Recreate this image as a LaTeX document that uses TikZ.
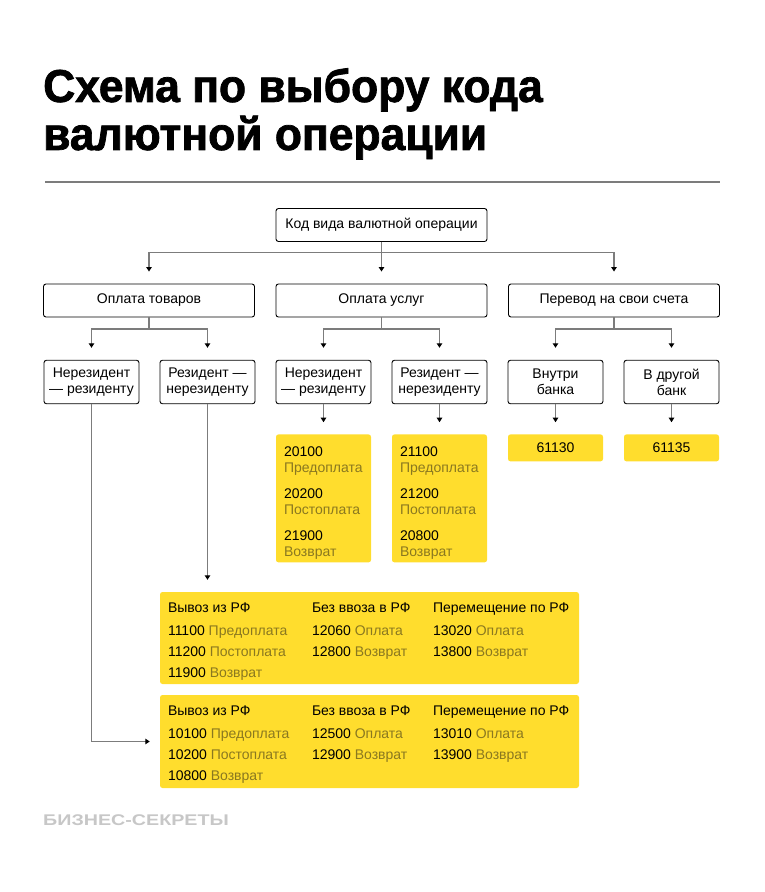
\documentclass[tikz,border=0pt]{standalone}
\usepackage{fontspec}
\setmainfont{Liberation Sans}
\newfontfamily\headfont[FakeStretch=0.965,FakeBold=1.6]{Liberation Sans Bold}
\newfontfamily\brandfont[FakeStretch=1.27]{Liberation Sans Bold}
\usepackage{tikz}
\usetikzlibrary{positioning,arrows.meta}

\definecolor{ylw}{HTML}{FFDD2D}
\definecolor{muted}{HTML}{8A7820}
\definecolor{linegray}{HTML}{7C7C7C}

\begin{document}
\begin{tikzpicture}[x=1pt,y=-1pt]
        \tikzstyle{every node}=[inner sep=0pt, font=\fontsize{14}{16}\selectfont]
        \tikzstyle{box}=[draw, rounded corners=2.5pt, line width=0.9pt]
        \tikzstyle{wide}=[box, minimum width=211pt, minimum height=33pt]
        \tikzstyle{small}=[box, minimum width=95pt, minimum height=43.5pt, align=center]
        \tikzstyle{code}=[fill=ylw, rounded corners=2.5pt]
        \tikzstyle{list}=[code, minimum width=95pt, minimum height=128pt, text width=79pt, align=left, font=\fontsize{14}{15.5}\selectfont]
        \tikzstyle{col}=[anchor=north west, align=left, font=\fontsize{14}{21}\selectfont]
        \tikzstyle{link}=[draw=linegray, line width=1.7pt, shorten >=12pt, -{Triangle[length=4.5pt,width=5.5pt,color=black]}]

        \useasboundingbox (0,0) rectangle (764,892);

        % title
        \node (title) [anchor=north west, align=left, font=\headfont\fontsize{46}{48}\selectfont] at (43,68) {Схема по выбору кода\\валютной операции};
        \draw[linegray, line width=2pt] (45,182) -- (720,182);

        % tree
        \node (root)  [wide] at (381.5,225) {Код вида валютной операции};

        \node (goods) [wide] at (149,300.5)   {Оплата товаров};
        \node (serv)  [wide] at (381.5,300.5) {Оплата услуг};
        \node (trans) [wide] at (614,300.5)   {Перевод на свои счета};

        \node (gNR) [small] at (91.5,382)  {Нерезидент\\— резиденту};
        \node (gRN) [small] at (207.5,382) {Резидент —\\нерезиденту};
        \node (sNR) [small] at (323.5,382) {Нерезидент\\— резиденту};
        \node (sRN) [small] at (439.5,382) {Резидент —\\нерезиденту};
        \node (tIn)  [small] at (555.5,382) {Внутри\\банка};
        \node (tOut) [small] at (671.5,382) {В другой\\банк};

        % codes
        \node (sNRc) [list, below=30pt of sNR] {\rule{0pt}{19pt}20100\\{\color{muted}Предоплата}\\[11pt]20200\\{\color{muted}Постоплата}\\[11pt]21900\\{\color{muted}Возврат}};
        \node (sRNc) [list, below=30pt of sRN] {\rule{0pt}{19pt}21100\\{\color{muted}Предоплата}\\[11pt]21200\\{\color{muted}Постоплата}\\[11pt]20800\\{\color{muted}Возврат}};
        \node (tInc)  [code, minimum width=95pt, minimum height=27pt, below=30pt of tIn]  {61130};
        \node (tOutc) [code, minimum width=95pt, minimum height=27pt, below=30pt of tOut] {61135};

        \node (gA) [code, minimum width=419pt, minimum height=92pt] at (369.5,638) {};
        \node (gB) [code, minimum width=419pt, minimum height=93pt] at (369.5,741.5) {};

        \node (gA1) [col] at ([shift={(8,10.5)}]gA.north west)   {Вывоз из РФ\\[2pt]11100 {\color{muted}Предоплата}\\11200 {\color{muted}Постоплата}\\11900 {\color{muted}Возврат}};
        \node (gA2) [col] at ([shift={(152,10.5)}]gA.north west) {Без ввоза в РФ\\[2pt]12060 {\color{muted}Оплата}\\12800 {\color{muted}Возврат}};
        \node (gA3) [col] at ([shift={(273,10.5)}]gA.north west) {Перемещение по РФ\\[2pt]13020 {\color{muted}Оплата}\\13800 {\color{muted}Возврат}};

        \node (gB1) [col] at ([shift={(8,10.5)}]gB.north west)   {Вывоз из РФ\\[2pt]10100 {\color{muted}Предоплата}\\10200 {\color{muted}Постоплата}\\10800 {\color{muted}Возврат}};
        \node (gB2) [col] at ([shift={(152,10.5)}]gB.north west) {Без ввоза в РФ\\[2pt]12500 {\color{muted}Оплата}\\12900 {\color{muted}Возврат}};
        \node (gB3) [col] at ([shift={(273,10.5)}]gB.north west) {Перемещение по РФ\\[2pt]13010 {\color{muted}Оплата}\\13900 {\color{muted}Возврат}};

        % connectors
        \draw[link] (root.south) -- ++(0,10.5) -| (goods.north);
        \draw[link] (root.south) -- (serv.north);
        \draw[link] (root.south) -- ++(0,10.5) -| (trans.north);

        \draw[link] (goods.south) -- ++(0,11.5) -| (gNR.north);
        \draw[link] (goods.south) -- ++(0,11.5) -| (gRN.north);
        \draw[link] (serv.south) -- ++(0,11.5) -| (sNR.north);
        \draw[link] (serv.south) -- ++(0,11.5) -| (sRN.north);
        \draw[link] (trans.south) -- ++(0,11.5) -| (tIn.north);
        \draw[link] (trans.south) -- ++(0,11.5) -| (tOut.north);

        \draw[link] (sNR) -- (sNRc);
        \draw[link] (sRN) -- (sRNc);
        \draw[link] (tIn) -- (tInc);
        \draw[link] (tOut) -- (tOutc);

        \draw[link] (gRN.south) -- (gRN.south |- gA.north);
        \draw[link, shorten >=10pt] (gNR.south) |- (gB.west);

        % footer
        \node (brand) [anchor=base west, font=\brandfont\fontsize{15.5}{15.5}\selectfont, text=black!22] at (43,825) {БИЗНЕС-СЕКРЕТЫ};
    \end{tikzpicture}
\end{document}
